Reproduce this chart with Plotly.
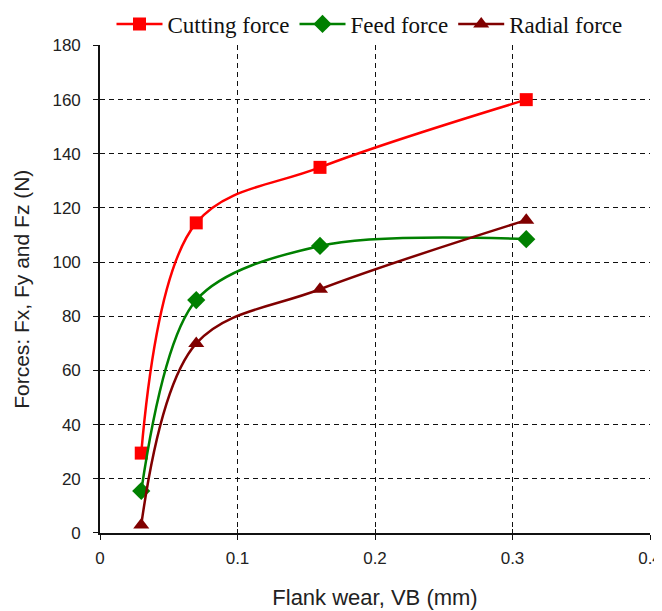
import plotly.graph_objects as go

flank_wear = [0.03, 0.07, 0.16, 0.31]
cutting_force = [29.5, 114.5, 135, 160]
feed_force = [15.5, 86, 106, 108.5]
radial_force = [3, 70, 90, 115.5]

x_ticks = [0, 0.1, 0.2, 0.3, 0.4]
x_tick_labels = ["0", "0.1", "0.2", "0.3", "0.4"]

fig = go.Figure()
fig.add_trace(go.Scatter(x=flank_wear, y=cutting_force, name="Cutting force",
                         mode="lines+markers", cliponaxis=False,
                         line=dict(color="#ff0000", width=2.5, shape="spline", smoothing=1),
                         marker=dict(symbol="square", size=13, color="#ff0000")))
fig.add_trace(go.Scatter(x=flank_wear, y=feed_force, name="Feed force",
                         mode="lines+markers", cliponaxis=False,
                         line=dict(color="#008000", width=2.5, shape="spline", smoothing=0.9),
                         marker=dict(symbol="diamond", size=14, color="#008000")))
fig.add_trace(go.Scatter(x=flank_wear, y=radial_force, name="Radial force",
                         mode="lines+markers", cliponaxis=False,
                         line=dict(color="#800000", width=2.5, shape="spline", smoothing=1),
                         marker=dict(symbol="triangle-up", size=14, color="#800000")))

grid = dict(showgrid=True, gridcolor="#111", griddash="5px,4px", gridwidth=1.4,
            showline=True, linecolor="#111", linewidth=1.6, ticks="outside", ticklen=5,
            tickcolor="#111", tickwidth=1.4, zeroline=False, automargin=False)

fig.update_layout(
    width=654, height=603,
    paper_bgcolor="white", plot_bgcolor="white",
    margin=dict(l=92, r=12, t=36, b=78),
    font=dict(family="Liberation Sans, Arial, sans-serif", color="#222", size=17),
    showlegend=True,
    legend=dict(orientation="h", x=0.49, xanchor="center", yref="container", y=0.9735, yanchor="middle",
                font=dict(family="Liberation Serif, Times New Roman, serif", size=23, color="#111"),
                itemwidth=46, tracegroupgap=0, bgcolor="rgba(0,0,0,0)"),
    xaxis=dict(range=[0, 0.4], tickvals=x_ticks, ticktext=x_tick_labels, ticklabelstandoff=4,
               title=dict(text="Flank wear, VB (mm)", font=dict(size=22), standoff=22),
               **grid),
    yaxis=dict(range=[0, 180], dtick=20, ticklabelstandoff=9,
               title=dict(text="Forces: Fx, Fy and Fz (N)", font=dict(size=21), standoff=17),
               **grid),
    xaxis2=dict(range=[0, 0.4], tickvals=x_ticks, overlaying="x", side="bottom", anchor="y",
                showticklabels=False, showgrid=False, zeroline=False, showline=False,
                ticks="inside", ticklen=4, tickcolor="#111", tickwidth=1.4, automargin=False),
    yaxis2=dict(range=[0, 180], dtick=20, overlaying="y", side="left", anchor="x",
                showticklabels=False, showgrid=False, zeroline=False, showline=False,
                ticks="inside", ticklen=4, tickcolor="#111", tickwidth=1.4, automargin=False),
)
fig.add_trace(go.Scatter(x=[None], y=[None], xaxis="x2", yaxis="y2", showlegend=False, hoverinfo="skip"))

fig.write_html("out.html")
